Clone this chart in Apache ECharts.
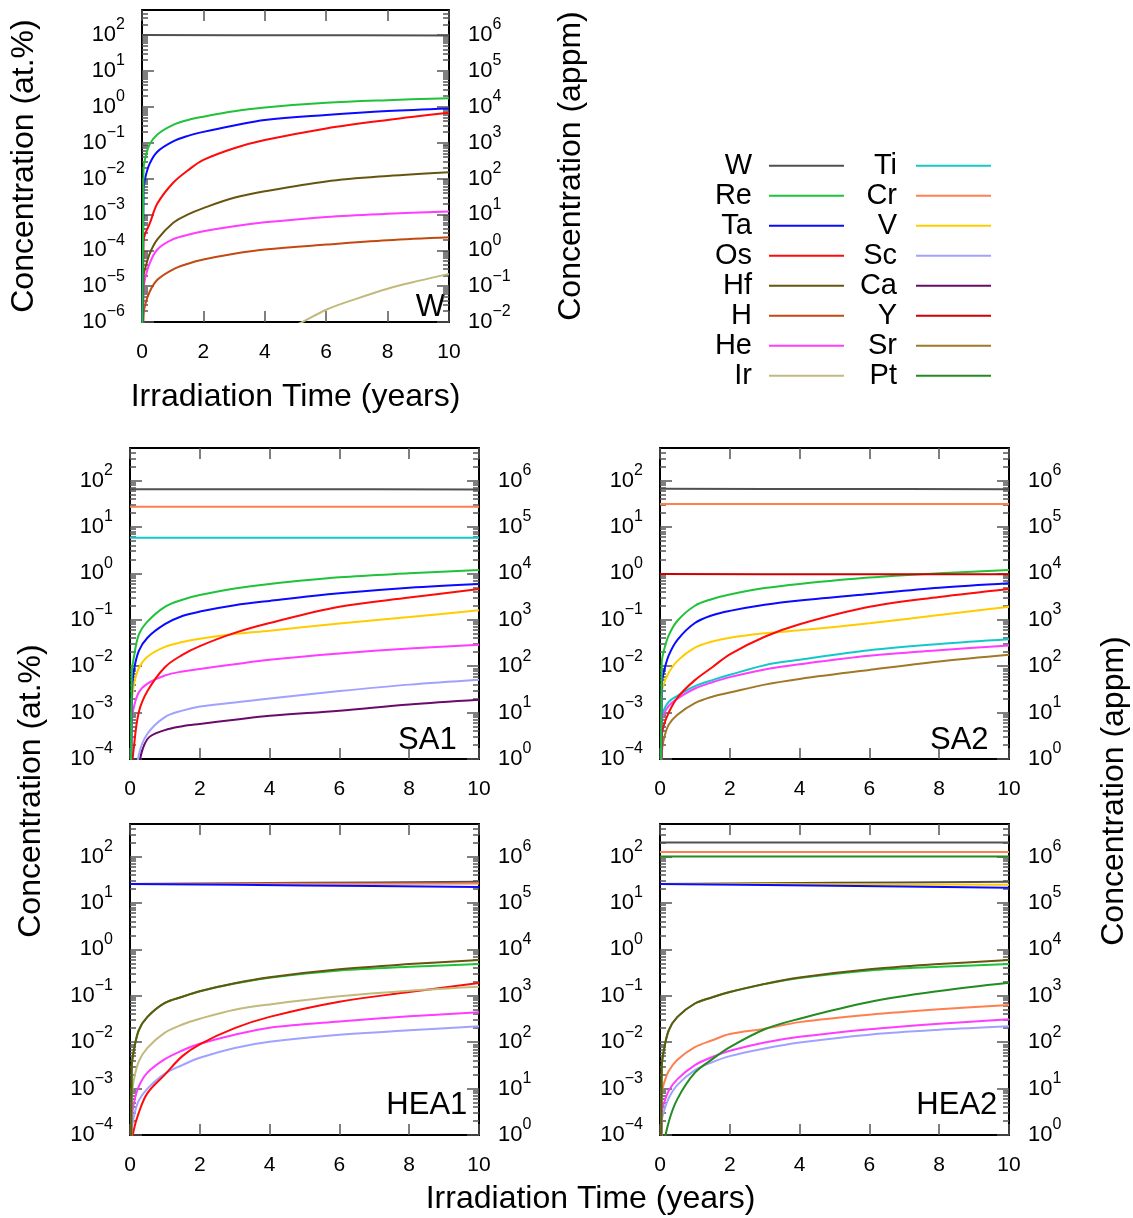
<!DOCTYPE html>
<html><head><meta charset="utf-8">
<script src="https://cdn.jsdelivr.net/npm/echarts@6/dist/echarts.min.js"></script>
<style>html,body{margin:0;padding:0;background:#fff}#c{width:1133px;height:1218px}</style>
</head><body><div id="c"></div>
<script>
// ---------- time grids ----------
const T  = [0, 0.05, 0.1, 0.25, 0.5, 1, 1.5, 2, 3, 4, 6, 8, 10];
const TF = [0, 5, 10];
const T_IR = [4, 5, 6, 7, 8, 9, 10];

// ---------- tick labels ----------
const X_TICKS = [0, 2, 4, 6, 8, 10];
const W_Y_TICKS  = [1e-6, 1e-5, 1e-4, 1e-3, 1e-2, 1e-1, 1, 10, 100];
const W_Y2_TICKS = [1e-2, 1e-1, 1, 10, 100, 1e3, 1e4, 1e5, 1e6];
const P_Y_TICKS  = [1e-4, 1e-3, 1e-2, 1e-1, 1, 10, 100];
const P_Y2_TICKS = [1, 10, 100, 1e3, 1e4, 1e5, 1e6];

// ---------- W panel (at.%) ----------
const W_W  = [100, 99, 98];
const W_Re = [1e-9, 0.018, 0.035, 0.09, 0.17, 0.31, 0.43, 0.53, 0.75, 0.96, 1.29, 1.53, 1.74];
const W_Ta = [1e-9, 0.005, 0.01, 0.026, 0.056, 0.107, 0.155, 0.2, 0.3, 0.43, 0.59, 0.76, 0.9];
const W_Os = [1e-9, 1.8e-4, 2.8e-4, 5.5e-4, 2e-3, 7.4e-3, 0.017, 0.033, 0.07, 0.118, 0.25, 0.43, 0.68];
const W_Hf = [1e-9, 1.9e-5, 3e-5, 8e-5, 2e-4, 5.7e-4, 1e-3, 1.5e-3, 2.9e-3, 4.4e-3, 8.3e-3, 0.0118, 0.015];
const W_H  = [1e-9, 1.5e-6, 3e-6, 7e-6, 1.5e-5, 2.9e-5, 4.2e-5, 5.5e-5, 8e-5, 1.05e-4, 1.44e-4, 1.9e-4, 2.3e-4];
const W_He = [1e-9, 8e-6, 1.6e-5, 4.3e-5, 1.05e-4, 2e-4, 2.7e-4, 3.4e-4, 4.7e-4, 6e-4, 8.5e-4, 1.04e-3, 1.2e-3];
const W_Ir = [3.5e-7, 8e-7, 2.2e-6, 4.5e-6, 8.5e-6, 1.4e-5, 2.2e-5];

// ---------- SA1 ----------
const SA1_W  = [65, 64.5, 64];
const SA1_Cr = [27, 27, 27];
const SA1_Ti = [5.85, 5.8, 5.8];
const SA1_Re = [1e-9, 0.007, 0.0138, 0.047, 0.091, 0.19, 0.27, 0.34, 0.47, 0.59, 0.82, 1.0, 1.18];
const SA1_Ta = [1e-9, 0.0019, 0.007, 0.021, 0.041, 0.08, 0.12, 0.15, 0.205, 0.254, 0.37, 0.49, 0.59];
const SA1_V  = [1e-9, 0.0013, 0.0036, 0.009, 0.016, 0.026, 0.033, 0.039, 0.049, 0.058, 0.083, 0.114, 0.16];
const SA1_Os = [1e-9, 5e-5, 1.5e-4, 1e-3, 2.9e-3, 9.5e-3, 0.0175, 0.027, 0.052, 0.085, 0.19, 0.3, 0.46];
const SA1_He = [1e-9, 6e-4, 1.2e-3, 2.7e-3, 4.2e-3, 6.3e-3, 7.7e-3, 8.7e-3, 0.011, 0.0137, 0.0187, 0.024, 0.029];
const SA1_Sc = [1e-9, 1e-6, 1e-5, 1.2e-4, 3.5e-4, 8e-4, 1.1e-3, 1.35e-3, 1.65e-3, 2e-3, 2.9e-3, 4e-3, 5.1e-3];
const SA1_Ca = [1e-9, 1e-7, 5e-6, 7e-5, 2.7e-4, 4.2e-4, 5.1e-4, 5.7e-4, 7e-4, 8.5e-4, 1.1e-3, 1.5e-3, 1.9e-3];

// ---------- SA2 ----------
const SA2_W  = [66, 65.5, 65];
const SA2_Cr = [31, 31, 31];
const SA2_Y  = [0.96, 0.955, 0.95];
const SA2_Re = [1e-9, 0.012, 0.02, 0.046, 0.095, 0.2, 0.28, 0.35, 0.48, 0.59, 0.81, 1.0, 1.18];
const SA2_Ta = [1e-9, 0.004, 0.007, 0.017, 0.037, 0.085, 0.125, 0.155, 0.21, 0.26, 0.36, 0.49, 0.61];
const SA2_V  = [1e-9, 0.0025, 0.004, 0.0072, 0.013, 0.025, 0.034, 0.041, 0.051, 0.059, 0.084, 0.126, 0.19];
const SA2_Os = [1e-9, 3e-4, 5e-4, 1e-3, 2.1e-3, 5e-3, 9.5e-3, 0.018, 0.043, 0.08, 0.19, 0.31, 0.46];
const SA2_Ti = [1e-9, 8e-4, 1.1e-3, 1.7e-3, 2.3e-3, 3.7e-3, 5e-3, 6.5e-3, 0.0105, 0.0137, 0.022, 0.03, 0.038];
const SA2_He = [1e-9, 6e-4, 9e-4, 1.4e-3, 2e-3, 3.3e-3, 4.5e-3, 5.8e-3, 8.5e-3, 0.011, 0.0167, 0.022, 0.028];
const SA2_Sr = [1e-9, 1.2e-4, 2.5e-4, 5.5e-4, 9e-4, 1.6e-3, 2.2e-3, 2.7e-3, 4e-3, 5.3e-3, 8.3e-3, 0.0126, 0.0175];

// ---------- HEA1 ----------
const HEA1_W  = [25.6, 27, 28.6];
const HEA1_Cr = [25.6, 25.8, 26];
const HEA1_Ta = [25.6, 23.8, 22];
const HEA1_Re = [1e-9, 0.003, 0.006, 0.018, 0.035, 0.07, 0.095, 0.125, 0.183, 0.245, 0.35, 0.42, 0.48];
const HEA1_Hf = [1e-9, 0.003, 0.006, 0.018, 0.035, 0.07, 0.095, 0.125, 0.185, 0.25, 0.37, 0.48, 0.59];
const HEA1_Ir = [1e-9, 6e-4, 1.4e-3, 3.8e-3, 7.5e-3, 0.016, 0.024, 0.032, 0.05, 0.065, 0.097, 0.128, 0.156];
const HEA1_Os = [1e-9, 5e-5, 1.2e-4, 3e-4, 8e-4, 2e-3, 5e-3, 9e-3, 0.02, 0.035, 0.074, 0.12, 0.187];
const HEA1_He = [1e-9, 2e-4, 4.4e-4, 1.1e-3, 2.2e-3, 4.3e-3, 6.6e-3, 9.2e-3, 0.0145, 0.0205, 0.028, 0.036, 0.044];
const HEA1_Sc = [1e-9, 1.1e-4, 2.3e-4, 5.5e-4, 1e-3, 2.1e-3, 3.2e-3, 4.6e-3, 7.5e-3, 0.0102, 0.0144, 0.018, 0.022];

// ---------- HEA2 ----------
const HEA2_W   = [200, 200, 200];
const HEA2_Cr  = [125, 125, 125];
const HEA2_Pt  = [100, 100, 100];
const HEA2_W2  = [25.6, 27, 28.6];
const HEA2_V   = [25.6, 25.2, 24.7];
const HEA2_Ta  = [25.6, 23.4, 21.3];
const HEA2_Re  = [1e-9, 0.003, 0.006, 0.018, 0.035, 0.068, 0.093, 0.12, 0.178, 0.242, 0.35, 0.42, 0.48];
const HEA2_Hf  = [1e-9, 0.003, 0.006, 0.018, 0.035, 0.068, 0.093, 0.12, 0.18, 0.247, 0.37, 0.48, 0.59];
const HEA2_Pt2 = [1e-9, 1e-6, 5e-5, 1.9e-4, 6e-4, 2.2e-3, 4.3e-3, 7.8e-3, 0.019, 0.032, 0.073, 0.126, 0.19];
const HEA2_Cr2 = [1e-9, 8e-4, 1.2e-3, 2.4e-3, 4.2e-3, 7.8e-3, 0.011, 0.015, 0.0195, 0.027, 0.039, 0.051, 0.063];
const HEA2_He  = [1e-9, 3e-4, 4.5e-4, 9e-4, 1.6e-3, 3.2e-3, 4.8e-3, 6.5e-3, 9.8e-3, 0.013, 0.019, 0.025, 0.031];
const HEA2_Sc  = [1e-9, 2e-4, 3e-4, 6.2e-4, 1.2e-3, 2.5e-3, 3.7e-3, 5e-3, 7.3e-3, 9.8e-3, 0.0145, 0.0185, 0.022];

const LEGEND_LEFT  = ['W', 'Re', 'Ta', 'Os', 'Hf', 'H', 'He', 'Ir'];
const LEGEND_RIGHT = ['Ti', 'Cr', 'V', 'Sc', 'Ca', 'Y', 'Sr', 'Pt'];

// ---------- styles ----------
const FONT = '"Liberation Sans", Arial, Helvetica, sans-serif';
const COLORS = {
  W: '#505050', Re: '#1fc23a', Ta: '#0a0aff', Os: '#ff0a0a', Hf: '#665510', H: '#c24a12',
  He: '#ff3cff', Ir: '#c2ba7c', Ti: '#14c8c8', Cr: '#ff7f50', V: '#ffcc00', Sc: '#a0a2ff',
  Ca: '#6a0a6a', Y: '#cc0000', Sr: '#a07828', Pt: '#228b22'
};

function sciLabel(v) {
  const e = Math.round(Math.log10(v));
  return '{b|10}{s|' + (e < 0 ? '\u2212' + (-e) : String(e)) + '}';
}
function minorTicks(minV, maxV) {
  const out = [];
  const lo = Math.floor(Math.log10(minV) + 1e-9), hi = Math.ceil(Math.log10(maxV));
  for (let e = lo; e <= hi; e++) for (let m = 2; m <= 9; m++) {
    const v = Number(m + 'e' + e);
    if (v > minV * 1.0001 && v < maxV * 0.9999) out.push(v);
  }
  return out;
}

const grids = [], xAxes = [], yAxes = [], series = [];
const TICK_COLOR = '#555';
const LABEL_RICH = {
  b: { fontSize: 22, fontFamily: FONT, color: '#000', lineHeight: 36 },
  s: { fontSize: 16, fontFamily: FONT, color: '#000', lineHeight: 16, verticalAlign: 'top' }
};

function addPanel(box, yMin, yTicks, y2Min, y2Ticks, lines) {
  const g = grids.length;
  grids.push({ left: box[0], top: box[1], width: box[2] - box[0], height: box[3] - box[1],
    containLabel: false, outerBoundsMode: 'none', show: false });
  const xi = xAxes.length;
  const xBase = {
    gridIndex: g, type: 'value', min: 0, max: 10, interval: 2,
    axisLine: { show: true, onZero: false, lineStyle: { color: '#000', width: 2 } },
    axisTick: { show: true, inside: true, length: 11, lineStyle: { color: TICK_COLOR, width: 1.5 } },
    splitLine: { show: false }
  };
  xAxes.push(Object.assign({}, xBase, { position: 'bottom',
    axisLabel: { show: true, margin: 20, fontSize: 21, fontFamily: FONT, color: '#000' } }));
  xAxes.push(Object.assign({}, xBase, { position: 'top', axisLabel: { show: false } }));

  const yi = yAxes.length;
  const yMax = 500, y2Max = 5e6;
  function yAxis(pos, mn, mx, ticks, major) {
    return {
      gridIndex: g, type: 'log', logBase: 10, min: mn, max: mx, position: pos,
      axisLine: { show: major, onZero: false, lineStyle: { color: '#000', width: 2 } },
      axisTick: { show: true, inside: true, length: major ? 12 : 6,
        customValues: major ? ticks : minorTicks(mn, mx),
        lineStyle: { color: TICK_COLOR, width: 1.5 } },
      axisLabel: major ? { show: true, customValues: ticks, margin: pos === 'left' ? 17 : 19,
        formatter: sciLabel, rich: LABEL_RICH } : { show: false },
      splitLine: { show: false }, minorTick: { show: false }
    };
  }
  yAxes.push(yAxis('left', yMin, yMax, yTicks, true));
  yAxes.push(yAxis('left', yMin, yMax, yTicks, false));
  yAxes.push(yAxis('right', y2Min, y2Max, y2Ticks, true));
  yAxes.push(yAxis('right', y2Min, y2Max, y2Ticks, false));

  lines.forEach(function (L) {
    const name = L[0], times = L[1], vals = L[2];
    series.push({
      type: 'line', name: name, xAxisIndex: xi, yAxisIndex: yi,
      data: times.map(function (t, i) { return [t, vals[i]]; }),
      symbol: 'none', showSymbol: false, smooth: 0.35, clip: true,
      lineStyle: { color: COLORS[name], width: 2 }, itemStyle: { color: COLORS[name] },
      emphasis: { disabled: true }, silent: true, animation: false
    });
  });
}

// W panel
addPanel([142, 10, 449, 322], 1e-6, W_Y_TICKS, 1e-2, W_Y2_TICKS, [
  ['W', TF, W_W], ['Ir', T_IR, W_Ir], ['H', T, W_H], ['He', T, W_He], ['Hf', T, W_Hf],
  ['Os', T, W_Os], ['Ta', T, W_Ta], ['Re', T, W_Re]
]);
// SA1
addPanel([130, 448, 479, 759], 1e-4, P_Y_TICKS, 1, P_Y2_TICKS, [
  ['W', TF, SA1_W], ['Cr', TF, SA1_Cr], ['Ti', TF, SA1_Ti], ['Ca', T, SA1_Ca], ['Sc', T, SA1_Sc],
  ['He', T, SA1_He], ['V', T, SA1_V], ['Os', T, SA1_Os], ['Ta', T, SA1_Ta], ['Re', T, SA1_Re]
]);
// SA2
addPanel([660, 448, 1009, 759], 1e-4, P_Y_TICKS, 1, P_Y2_TICKS, [
  ['W', TF, SA2_W], ['Cr', TF, SA2_Cr], ['Sr', T, SA2_Sr], ['He', T, SA2_He], ['Ti', T, SA2_Ti],
  ['V', T, SA2_V], ['Os', T, SA2_Os], ['Ta', T, SA2_Ta], ['Re', T, SA2_Re], ['Y', TF, SA2_Y]
]);
// HEA1
addPanel([130, 824, 479, 1135], 1e-4, P_Y_TICKS, 1, P_Y2_TICKS, [
  ['W', TF, HEA1_W], ['Cr', TF, HEA1_Cr], ['Ta', TF, HEA1_Ta], ['Sc', T, HEA1_Sc], ['He', T, HEA1_He],
  ['Os', T, HEA1_Os], ['Ir', T, HEA1_Ir], ['Re', T, HEA1_Re], ['Hf', T, HEA1_Hf]
]);
// HEA2
addPanel([660, 824, 1009, 1135], 1e-4, P_Y_TICKS, 1, P_Y2_TICKS, [
  ['W', TF, HEA2_W], ['Cr', TF, HEA2_Cr], ['Pt', TF, HEA2_Pt], ['W', TF, HEA2_W2], ['V', TF, HEA2_V],
  ['Ta', TF, HEA2_Ta], ['Sc', T, HEA2_Sc], ['He', T, HEA2_He], ['Cr', T, HEA2_Cr2], ['Pt', T, HEA2_Pt2],
  ['Re', T, HEA2_Re], ['Hf', T, HEA2_Hf]
]);

function legend(left, data, padRight) {
  return {
    orient: 'vertical', left: left, top: 150.7, padding: 0, itemGap: 0,
    itemWidth: 75, itemHeight: 2, icon: 'rect', align: 'right', selectedMode: false,
    itemStyle: { borderWidth: 0 },
    textStyle: { fontSize: 29, fontFamily: FONT, color: '#000', width: 60, lineHeight: 30,
      align: 'right', padding: [0, padRight, 0, 0] },
    data: data
  };
}

function txt(text, x, y, rot, size, align) {
  return { type: 'text', x: x, y: y, rotation: rot || 0, silent: true,
    style: { text: text, fontSize: size || 32, fontFamily: FONT, fill: '#000',
      align: align || 'center', verticalAlign: 'middle' } };
}

const option = {
  animation: false,
  backgroundColor: '#fff',
  grid: grids, xAxis: xAxes, yAxis: yAxes, series: series,
  legend: [legend(692, LEGEND_LEFT, 12), legend(837, LEGEND_RIGHT, 14)],
  graphic: [
    txt('Concentration (at.%)', 24, 166, Math.PI / 2),
    txt('Concentration (appm)', 571, 166, Math.PI / 2),
    txt('Irradiation Time (years)', 295.5, 397.5),
    txt('Concentration (at.%)', 31, 791, Math.PI / 2),
    txt('Concentration (appm)', 1114, 791, Math.PI / 2),
    txt('Irradiation Time (years)', 590.5, 1199),
    txt('W', 445, 307, 0, 31, 'right'),
    txt('SA1', 456.7, 740.7, 0, 31, 'right'),
    txt('SA2', 988.6, 740.7, 0, 31, 'right'),
    txt('HEA1', 467.3, 1105.7, 0, 31, 'right'),
    txt('HEA2', 997.3, 1105.7, 0, 31, 'right')
  ]
};

const chart = echarts.init(document.getElementById('c'), null, { renderer: 'canvas', width: 1133, height: 1218 });
chart.setOption(option);
</script>
</body></html>
